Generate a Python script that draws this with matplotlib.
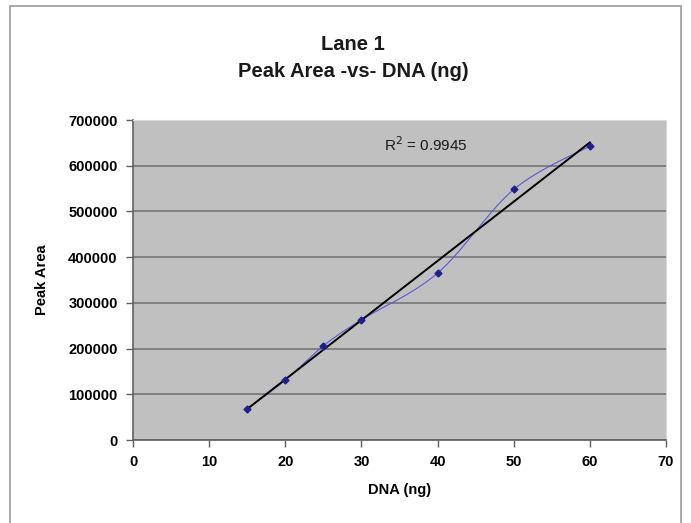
import numpy as np
import matplotlib
matplotlib.use("Agg")
import matplotlib.pyplot as plt
from matplotlib.patches import Rectangle

# Data
dna_ng = [15, 20, 25, 30, 40, 50, 60]
peak_area = [68000, 131000, 206000, 263000, 365000, 548000, 643000]
x_ticks = [0, 10, 20, 30, 40, 50, 60, 70]
y_ticks = [0, 100000, 200000, 300000, 400000, 500000, 600000, 700000]
title_text = "Lane 1\nPeak Area -vs- DNA (ng)"
r2_label = "R$^2$ = 0.9945"

plt.rcParams['font.family'] = ['Liberation Sans', 'DejaVu Sans']

fig = plt.figure(figsize=(6.91, 5.23), dpi=100)
fig.patch.set_facecolor('white')
# outer chart frame
fig.add_artist(Rectangle((10/691, -0.05), (681-10)/691, 1.05 - 6/523, transform=fig.transFigure,
                         fill=False, edgecolor='#9a9a9a', linewidth=1.2))

ax = fig.add_axes([133/691, 1-440/523, (666-133)/691, (440-120)/523])
ax.set_facecolor('#c0c0c0')

x = np.array(dna_ng, float)
y = np.array(peak_area, float)

# Excel-like smoothed line (Bezier with Catmull-Rom control points)
P = np.column_stack([x, y])
ext = np.vstack([P[0], P, P[-1]])
curve = []
t = np.linspace(0, 1, 40)
for i in range(len(P) - 1):
    p0, p1, p2, p3 = ext[i], ext[i+1], ext[i+2], ext[i+3]
    c1 = p1 + (p2 - p0) / 6
    c2 = p2 - (p3 - p1) / 6
    seg = ((1-t)**3)[:, None]*p1 + (3*(1-t)**2*t)[:, None]*c1 + (3*(1-t)*t**2)[:, None]*c2 + (t**3)[:, None]*p2
    curve.append(seg)
curve = np.vstack(curve)
ax.plot(curve[:, 0], curve[:, 1], color='#5a5ad0', linewidth=0.8, zorder=3)
ax.plot(x, y, linestyle='none', marker='D', markersize=3.5, color='#1f1f8f', zorder=4)

# Linear trendline
m, b = np.polyfit(x, y, 1)
xl = np.array([x.min(), x.max()])
ax.plot(xl, m*xl + b, color='black', linewidth=1.4, zorder=3.5)

ax.set_xlim(0, 70)
ax.set_ylim(0, 700000)
ax.set_xticks(x_ticks)
ax.set_yticks(y_ticks)
ax.set_xticklabels([str(v) for v in x_ticks], fontsize=10.5, fontweight='bold')
ax.set_yticklabels([str(v) for v in y_ticks], fontsize=10.5, fontweight='bold')
ax.yaxis.grid(True, color='#6e6e6e', linewidth=1.1)
ax.set_axisbelow(True)
ax.tick_params(axis='both', direction='out', length=5, width=1, color='#606060', pad=6)
for s in ['top', 'right']:
    ax.spines[s].set_color('#d8d8d8')
for s in ['left', 'bottom']:
    ax.spines[s].set_color('#606060')
    ax.spines[s].set_linewidth(1.2)

ax.set_xlabel("DNA (ng)", fontsize=10.5, fontweight='bold', labelpad=10)
ax.set_ylabel("Peak Area", fontsize=10.5, fontweight='bold', labelpad=14)
fig.text(353/691, 1-58/523, title_text, ha='center', va='center', fontsize=14.5,
         fontweight='bold', linespacing=1.5, color='#1a1a1a')
ax.text(33.0, 645000, r2_label, fontsize=11, ha='left', va='center', color='#1a1a1a')

fig.savefig("out.png", dpi=100)
